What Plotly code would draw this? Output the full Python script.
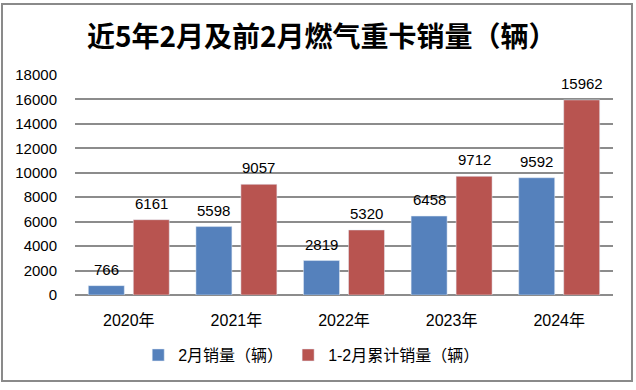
import plotly.graph_objects as go

years = ["2020年", "2021年", "2022年", "2023年", "2024年"]
feb_sales = [766, 5598, 2819, 6458, 9592]
cum_sales = [6161, 9057, 5320, 9712, 15962]
series_names = ["2月销量（辆）", "1-2月累计销量（辆）"]
title_text = "近5年2月及前2月燃气重卡销量（辆）"
y_ticks = list(range(0, 18001, 2000))

BLUE = "#5581BC"
RED = "#B85450"
FONT = "Liberation Sans, Noto Sans CJK SC, sans-serif"

fig = go.Figure()
fig.add_bar(x=years, y=feb_sales, name=series_names[0], marker_color=BLUE)
fig.add_bar(x=years, y=cum_sales, name=series_names[1], marker_color=RED)

annotations = []
for vals, shift in ((feb_sales, -22.5), (cum_sales, 22.5)):
    for yr, v in zip(years, vals):
        annotations.append(dict(x=yr, y=v, xref="x", yref="y", text=str(v),
                                showarrow=False, yanchor="bottom", xshift=shift,
                                yshift=6, font=dict(size=15, color="#000", family=FONT)))
annotations.append(dict(x=0.459, y=1.1818, xref="paper", yref="paper",
                        text="<b>" + title_text + "</b>", showarrow=False,
                        xanchor="center", yanchor="middle",
                        font=dict(size=28, color="#000", family="Noto Sans CJK SC, sans-serif")))

fig.update_layout(
    width=636, height=390,
    margin=dict(l=75, r=23, t=75, b=95),
    paper_bgcolor="white", plot_bgcolor="white",
    barmode="group", bargap=0.164, bargroupgap=0.2,
    font=dict(family=FONT, color="#000"),
    annotations=annotations,
    legend=dict(orientation="h", x=0.44, y=-0.273, xanchor="center", yanchor="middle",
                font=dict(size=16, family=FONT), itemwidth=30, traceorder="normal"),
    shapes=[dict(type="rect", xref="paper", yref="paper",
                 x0=-0.1357, x1=1.0353, y0=-0.391, y1=1.3227,
                 line=dict(color="#8a8a8a", width=2), fillcolor="rgba(0,0,0,0)")],
)
fig.update_yaxes(range=[0, 18000], tickvals=y_ticks, ticktext=[str(t) for t in y_ticks],
                 showgrid=True, gridcolor="#8c8c8c",
                 gridwidth=1.5, zeroline=True, zerolinecolor="#8c8c8c", zerolinewidth=1.5,
                 ticklabelstandoff=17, tickfont=dict(size=15, family=FONT), showline=False)
fig.update_xaxes(showline=False, ticks="", ticklabelstandoff=14,
                 tickfont=dict(size=16, family=FONT))

fig.write_html("out.html", config={"displayModeBar": False},
               post_script="document.body.style.margin='0';")
